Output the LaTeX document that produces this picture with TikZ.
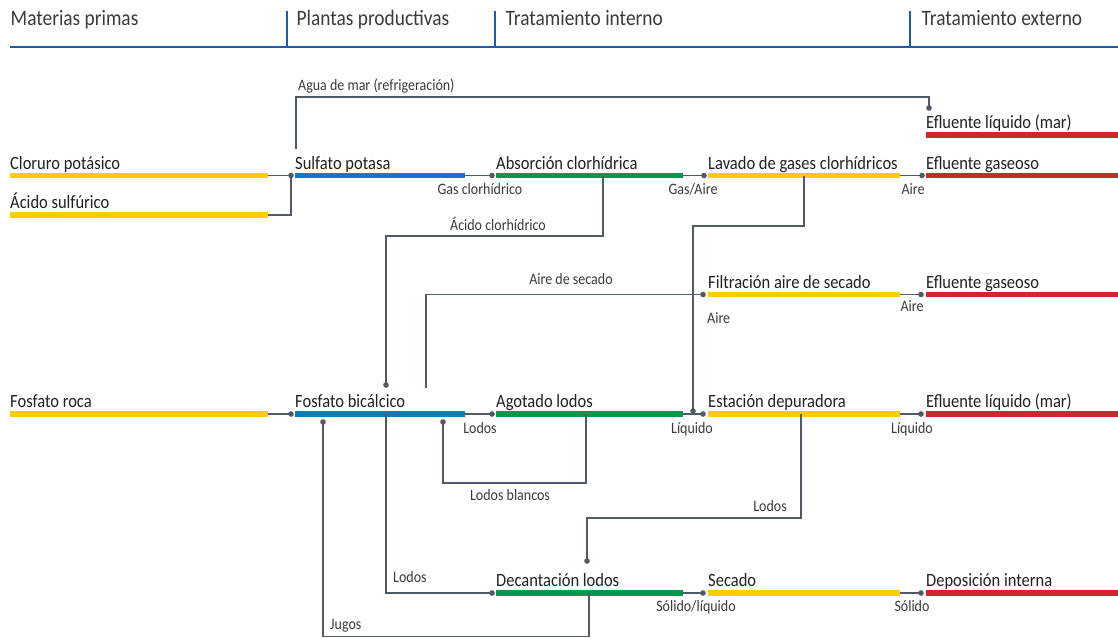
\documentclass[tikz,border=0pt]{standalone}
\usepackage{fontspec}
\setmainfont{Carlito}[FakeStretch=0.88]
\definecolor{cyel}{HTML}{FFCC00}
\definecolor{cblu}{HTML}{0A7AC4}
\definecolor{cgrn}{HTML}{00984A}
\definecolor{cred}{HTML}{D0252D}
\definecolor{cline}{HTML}{4F5A65}
\definecolor{chead}{HTML}{1E5BAA}
\definecolor{ctxt}{HTML}{231F20}
\definecolor{csml}{HTML}{3A3A3A}
\tikzset{
  barline/.style={line width=5.5pt, line cap=butt},
  conn/.style={draw=cline, line width=1.3pt, line join=miter},
  mainlbl/.style={anchor=base west, inner sep=0pt, font=\fontsize{18.75}{20}\selectfont, text=ctxt},
  smlbl/.style={anchor=base, inner sep=0pt, font=\fontsize{15.9}{18}\selectfont, text=csml},
  hdrlbl/.style={anchor=base west, inner sep=0pt, font=\fontsize{22}{24}\selectfont, text=csml},
}
\newcommand\mkbar[6]{%
  \coordinate (#1-w) at (#2,#4);
  \coordinate (#1-e) at (#3,#4);
  \draw[barline, draw=#5] (#1-w) -- (#1-e);
  \node[mainlbl] (#1-t) at (#2,#4-6.5) {#6};
}
\newcommand\mkdot[3]{%
  \coordinate (#1) at (#2,#3);
  \fill[cline] (#1) circle (2.8pt);
}
\begin{document}
\begin{tikzpicture}[x=1pt,y=-1pt]
\useasboundingbox (0,0) rectangle (1118,638);
% header
\node[hdrlbl] (h1) at (10.5,25) {Materias primas};
\node[hdrlbl] (h2) at (296.5,25) {Plantas productivas};
\node[hdrlbl] (h3) at (505.5,25) {Tratamiento interno};
\node[hdrlbl] (h4) at (921.5,25) {Tratamiento externo};
\coordinate (hl) at (10,46.5);
\coordinate (hr) at (1118,46.5);
\draw[chead, line width=2pt] (hl) -- (hr);
\foreach \sx [count=\i] in {287,495,910}{
  \coordinate (sep\i t) at (\sx,11);
  \coordinate (sep\i b) at (\sx,46.5);
  \draw[chead, line width=1.8pt] (sep\i t) -- (sep\i b);
}
% bars
\mkbar{efm1}{926}{1118}{135}{cred}{Efluente líquido (mar)}
\mkbar{clp}{10}{268}{175.5}{cyel}{Cloruro potásico}
\mkbar{sup}{295}{465}{175.5}{cblu}{Sulfato potasa}
\mkbar{abs}{496}{683}{175.5}{cgrn}{Absorción clorhídrica}
\mkbar{lav}{708}{900}{175.5}{cyel}{Lavado de gases clorhídricos}
\mkbar{efg1}{926}{1118}{175.5}{cred}{Efluente gaseoso}
\mkbar{acs}{10}{268}{215}{cyel}{Ácido sulfúrico}
\mkbar{fil}{708}{900}{294.5}{cyel}{Filtración aire de secado}
\mkbar{efg2}{926}{1118}{294.5}{cred}{Efluente gaseoso}
\mkbar{fro}{10}{268}{414}{cyel}{Fosfato roca}
\mkbar{fbi}{295}{465}{414}{cblu}{Fosfato bicálcico}
\mkbar{ago}{496}{683}{414}{cgrn}{Agotado lodos}
\mkbar{est}{708}{900}{414}{cyel}{Estación depuradora}
\mkbar{efm2}{926}{1118}{414}{cred}{Efluente líquido (mar)}
\mkbar{dec}{496}{683}{593}{cgrn}{Decantación lodos}
\mkbar{sec}{708}{900}{593}{cyel}{Secado}
\mkbar{dep}{926}{1118}{593}{cred}{Deposición interna}
% dots
\mkdot{d-sup}{291}{175.5}
\mkdot{d-abs}{492}{175.5}
\mkdot{d-lav}{704}{175.5}
\mkdot{d-efg1}{922}{175.5}
\mkdot{d-efm1}{929}{108}
\mkdot{d-fbiA}{386}{385}
\mkdot{d-fil}{703}{294.5}
\mkdot{d-efg2}{921}{294.5}
\mkdot{d-fbi}{291}{414}
\mkdot{d-ago}{492}{414}
\mkdot{d-estL}{693}{411}
\mkdot{d-est}{703}{414}
\mkdot{d-efm2}{921}{414}
\mkdot{d-jug}{323}{422}
\mkdot{d-lbl}{443}{422}
\mkdot{d-decT}{587}{561}
\mkdot{d-dec}{492}{593}
\mkdot{d-sec}{703}{593}
\mkdot{d-dep}{921}{593}
% free points
\coordinate (agua0) at (296,149);
\coordinate (acs1) at (291,215);
\coordinate (abs-d) at (603,175.5);
\coordinate (lav-d) at (804,175.5);
\coordinate (fbi-a) at (426,388);
\coordinate (ago-d) at (586,414);
\coordinate (est-d) at (801,414);
\coordinate (fbi-d) at (386,414);
\coordinate (dec-d) at (589,593);
% connectors
\draw[conn] (clp-e) -- (d-sup);
\draw[conn] (acs-e) -- (acs1) -- (d-sup);
\draw[conn] (agua0) |- (929,97) -- (d-efm1);
\draw[conn] (sup-e) -- (d-abs);
\draw[conn] (abs-e) -- (d-lav);
\draw[conn] (lav-e) -- (d-efg1);
\draw[conn] (abs-d) -- (603,236) -| (d-fbiA);
\draw[conn] (lav-d) -- (804,226) -| (d-estL);
\draw[conn] (fbi-a) |- (d-fil);
\draw[conn] (fil-e) -- (d-efg2);
\draw[conn] (fro-e) -- (d-fbi);
\draw[conn] (fbi-e) -- (d-ago);
\draw[conn] (ago-e) -- (d-est);
\draw[conn] (est-e) -- (d-efm2);
\draw[conn] (ago-d) -- (586,483) -| (d-lbl);
\draw[conn] (est-d) -- (801,518) -| (d-decT);
\draw[conn] (fbi-d) |- (d-dec);
\draw[conn] (dec-e) -- (d-sec);
\draw[conn] (sec-e) -- (d-dep);
\draw[conn] (dec-d) -- (589,636.5) -| (d-jug);
% small labels
\node[smlbl, anchor=base west] (l-agua) at (298,90) {Agua de mar (refrigeración)};
\node[smlbl] (l-gas) at (480,194) {Gas clorhídrico};
\node[smlbl] (l-gasaire) at (693,194) {Gas/Aire};
\node[smlbl] (l-aire1) at (913,194) {Aire};
\node[smlbl] (l-acl) at (498,230.5) {Ácido clorhídrico};
\node[smlbl] (l-ase) at (571,284) {Aire de secado};
\node[smlbl] (l-aire2) at (912,311) {Aire};
\node[smlbl, anchor=base west] (l-aire3) at (707,323) {Aire};
\node[smlbl] (l-lod1) at (480,433) {Lodos};
\node[smlbl] (l-liq1) at (692,433) {Líquido};
\node[smlbl] (l-liq2) at (912,433) {Líquido};
\node[smlbl] (l-lbl) at (510,500) {Lodos blancos};
\node[smlbl] (l-lod2) at (770,511.5) {Lodos};
\node[smlbl, anchor=base west] (l-lod3) at (393,582.5) {Lodos};
\node[smlbl] (l-sl) at (696,611) {Sólido/líquido};
\node[smlbl] (l-sol) at (912,611) {Sólido};
\node[smlbl, anchor=base west] (l-jug) at (330,629) {Jugos};
\end{tikzpicture}
\end{document}
